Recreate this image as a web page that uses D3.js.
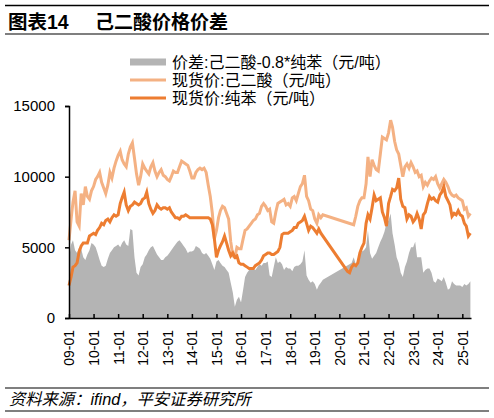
<!DOCTYPE html>
<html>
<head>
<meta charset="utf-8">
<script src="https://cdn.jsdelivr.net/npm/d3@7"></script>
<style>
	body { margin: 0; background: #fff; }
	text { font-family: "Liberation Sans", Arial, "Noto Sans CJK SC", sans-serif; }
	.cn { font-family: "Liberation Sans", "Noto Sans CJK SC", sans-serif; }
</style>
</head>
<body>
<div id="chart-area"></div>
<script>

	// monthly values, 2009-01 .. 2025-05 (null = no data, line is joined across)
	var adipic = [
		5500,7000,8200,9000,6800,6500,8800,8000,9300,8600,8400,9000,
		9300,9800,10000,10300,9600,9200,8800,9400,10300,9900,10600,11100,
		11500,11800,11200,10900,10700,11600,12100,12400,11300,10200,9400,10000,
		10900,10600,10400,10200,10700,11000,10400,10000,10300,10500,10100,10000,
		9800,9700,10000,10400,10300,10300,10700,11100,11000,10900,10800,10400,
		9900,9900,10300,10500,10600,10500,10600,10300,9400,8600,7400,5600,
		6200,7100,7600,7900,7800,7400,7000,5400,4400,4300,5000,4900,
		4900,5600,6200,6300,6500,6700,6900,7000,7300,7400,7900,8100,
		7900,7600,7700,6800,6700,7500,8100,8200,8300,8400,8000,8100,
		7900,8500,8600,8300,8800,9300,9500,10100,8600,8300,7700,7600,
		7000,6700,7300,7100,7300,null,null,null,null,null,null,null,
		null,null,null,null,null,null,null,6600,7200,7900,8300,8500,
		8500,9500,11400,10000,11200,10800,10500,10400,11600,12800,12700,12600,
		13100,14000,13500,12500,11900,11600,10800,10000,10700,10900,10600,11000,
		10700,10300,10400,10000,10100,9300,9600,9400,9700,9900,9800,10000,
		9500,9200,9500,9800,9600,9300,8900,8700,8600,8700,8500,8400,
		8300,7700,7800,7200,7400
	];

	var benzene = [
		2300,2900,3600,3700,3900,4700,5100,5300,5300,5300,5800,5900,
		6000,5900,6200,6400,6700,6600,6900,7000,6800,7100,7300,7200,
		7300,8100,8500,8900,8000,7600,7900,8000,8200,8100,8000,8100,
		8400,8500,8900,8100,7700,7400,7600,8000,7800,7700,7800,7800,
		7700,7800,7500,7300,7100,7100,7000,7200,7200,7300,7200,7100,
		7100,7100,7100,7100,7100,7100,7100,7100,7100,7000,6600,5600,
		4300,4800,5100,5400,5800,5300,4800,4400,4600,4300,4400,3900,
		3800,3800,3700,3600,3500,3500,3500,3700,3800,3900,4100,4400,
		4500,4600,4600,4500,4500,4600,4700,5000,5900,6000,6000,6000,
		6100,6200,6400,6400,6700,6800,6900,7200,6700,6200,6500,6400,
		6200,6000,6300,6000,null,null,null,null,null,null,null,null,
		null,null,null,null,3300,3200,3600,3800,3700,3900,4600,5000,
		5300,6700,7300,7000,7800,8700,8300,8400,8500,7500,7100,6500,
		8100,8600,9100,9000,9200,9900,8400,7900,7800,7000,7300,7200,
		6800,7000,7400,7000,6300,7300,7500,8100,8600,8400,8500,8300,
		8200,8700,8900,9300,8600,8300,8000,7200,7400,7300,7600,7300,
		7200,6700,6500,5800,6000
	];

	var spread = [
		4100,5200,5500,4800,4600,5000,4900,4300,4100,4500,4800,5300,
		5200,5000,4600,4100,3700,3600,3700,4200,4600,4800,5000,5100,
		5200,5000,5300,5500,5200,5100,6300,6200,4300,3200,3000,3600,
		3800,4300,4500,4800,5000,5100,4800,4500,4300,4100,4100,4300,
		4400,4600,4800,5000,5200,5400,5500,5300,5100,4900,4600,4700,
		4700,4800,5100,5000,4900,4600,4500,4600,4400,4200,3800,3400,
		4000,4100,3900,3700,3600,3400,3200,2500,1800,800,1300,1500,
		1100,2000,2900,3200,3400,3400,3500,3400,3600,3800,3700,3900,
		3900,4000,3000,2900,3600,4300,3900,4000,3800,3400,3600,3500,
		3500,3300,3600,3700,3700,3800,4000,4800,3000,2700,2500,2600,
		2400,2000,2300,2500,2700,null,null,null,null,null,null,null,
		null,null,null,null,null,null,3900,4300,3800,3900,4500,4700,
		4800,5000,6200,4600,4200,4400,4600,5000,5400,5700,6100,6700,
		6900,7400,6000,5200,4300,3900,3200,2900,3600,4000,4600,5000,
		5000,5400,4300,4300,4300,3200,3400,3500,3500,3200,2600,2500,
		2800,2700,2600,2900,2500,2000,2100,2600,2400,2300,2300,2300,
		2200,2400,2300,2400,2600
	];

	var yTicks = [0, 5000, 10000, 15000];
	var xTickLabels = ["09-01","10-01","11-01","12-01","13-01","14-01","15-01","16-01",
		"17-01","18-01","19-01","20-01","21-01","22-01","23-01","24-01","25-01"];
	var legendNames = ["价差:己二酸-0.8*纯苯（元/吨）", "现货价:己二酸（元/吨）", "现货价:纯苯（元/吨）"];
	var colors = ["#b4b4b4", "#f4b183", "#ed7d31"];

	var months = d3.timeMonth.range(new Date(2009, 0, 1), new Date(2025, 5, 1));

	var svg = d3.select("#chart-area").append("svg")
		.attr("width", 494)
		.attr("height", 418)
		.style("background", "#fff");

	// header / footer
	svg.append("line").attr("x1", 5).attr("x2", 489).attr("y1", 5.5).attr("y2", 5.5)
		.attr("stroke", "#000").attr("stroke-width", 1.5);
	svg.append("line").attr("x1", 5).attr("x2", 489).attr("y1", 34).attr("y2", 34)
		.attr("stroke", "#000").attr("stroke-width", 1.2);
	svg.append("text").attr("class", "cn")
		.attr("x", 8).attr("y", 29)
		.attr("font-size", 19.5).attr("font-weight", "bold")
		.text("图表14");
	svg.append("text").attr("class", "cn")
		.attr("x", 95).attr("y", 29)
		.attr("font-size", 19).attr("font-weight", "bold")
		.text("己二酸价格价差");

	svg.append("line").attr("x1", 5).attr("x2", 489).attr("y1", 388).attr("y2", 388)
		.attr("stroke", "#000").attr("stroke-width", 1.2);
	svg.append("line").attr("x1", 5).attr("x2", 489).attr("y1", 411).attr("y2", 411)
		.attr("stroke", "#000").attr("stroke-width", 1.2);
	svg.append("text").attr("class", "cn")
		.attr("x", 9).attr("y", 405)
		.attr("font-size", 16.3).attr("font-style", "italic")
		.text("资料来源：ifind，平安证券研究所");

	// scales
	var x = d3.scaleTime()
		.domain([new Date(2009, 0, 1), new Date(2025, 4, 10)])
		.range([69, 471]);
	var y = d3.scaleLinear()
		.domain([0, 15000])
		.range([318, 106]);

	// spread area
	var area = d3.area()
		.x(function(d){ return x(d.t); })
		.y0(y(0))
		.y1(function(d){ return y(d.v); });

	function pts(arr) {
		return months.map(function(t, i){ return { t: t, v: arr[i] }; })
			.filter(function(d){ return d.v != null; });
	}

	svg.append("path")
		.datum(pts(spread))
		.attr("d", area)
		.attr("fill", colors[0]);

	var line = d3.line()
		.x(function(d){ return x(d.t); })
		.y(function(d){ return y(d.v); });

	svg.append("path")
		.datum(pts(adipic))
		.attr("d", line)
		.attr("fill", "none")
		.attr("stroke", colors[1])
		.attr("stroke-width", 3);

	svg.append("path")
		.datum(pts(benzene))
		.attr("d", line)
		.attr("fill", "none")
		.attr("stroke", colors[2])
		.attr("stroke-width", 3);

	// axes
	var yAxis = svg.append("g")
		.attr("transform", "translate(69,0)")
		.call(d3.axisLeft(y).tickValues(yTicks).tickSize(4).tickPadding(10).tickFormat(d3.format("d")));
	yAxis.selectAll("text").attr("font-size", 15).attr("fill", "#000");
	yAxis.selectAll("line, path").attr("stroke", "#000").attr("stroke-width", 1.5);

	var tickDates = xTickLabels.map(function(s){ return new Date(2000 + (+s.slice(0, 2)), 0, 1); });
	var xAxis = svg.append("g")
		.attr("transform", "translate(0,318)")
		.call(d3.axisBottom(x).tickValues(tickDates).tickSizeInner(-4).tickSizeOuter(0)
			.tickFormat(function(d, i){ return xTickLabels[i]; }));
	xAxis.selectAll("line, path").attr("stroke", "#000").attr("stroke-width", 1.5);
	xAxis.selectAll("text")
		.attr("font-size", 14)
		.attr("fill", "#000")
		.attr("text-anchor", "end")
		.attr("transform", "rotate(-90)")
		.attr("x", -12)
		.attr("y", 0)
		.attr("dy", "0.35em");

	// legend
	var legend = svg.append("g");
	legendNames.forEach(function(name, i){
		var ly = 62 + i * 18;
		if (i == 0) {
			legend.append("rect").attr("x", 130).attr("y", ly - 3.5).attr("width", 36).attr("height", 7)
				.attr("fill", colors[i]);
		} else {
			legend.append("line").attr("x1", 130).attr("x2", 166).attr("y1", ly).attr("y2", ly)
				.attr("stroke", colors[i]).attr("stroke-width", 3);
		}
		legend.append("text").attr("class", "cn")
			.attr("x", 172).attr("y", ly + 6)
			.attr("font-size", 16)
			.text(name);
	});

</script>
</body>
</html>
